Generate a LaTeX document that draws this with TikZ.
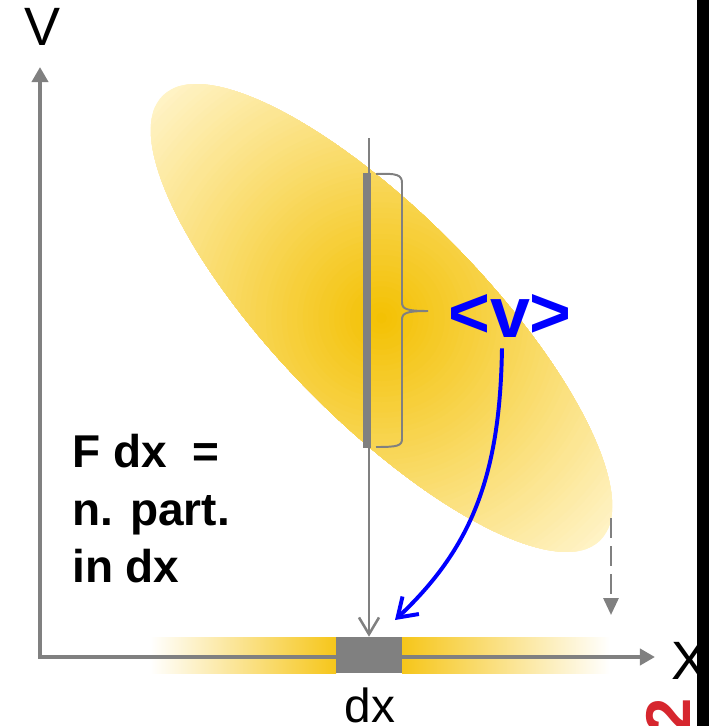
\documentclass[tikz,border=0pt]{standalone}
\usepackage{fontspec}
\setmainfont{Liberation Sans}
\usepackage{xcolor}
\usetikzlibrary{arrows.meta}

\definecolor{ellgold}{RGB}{243,192,0}
\definecolor{ellpale}{RGB}{255,243,198}
\definecolor{bandgold}{RGB}{246,198,26}
\definecolor{axgray}{RGB}{128,128,128}
\definecolor{pagered}{RGB}{214,38,46}

\begin{document}
\begin{tikzpicture}[x=0.025cm, y=-0.025cm,
  axis/.style={draw=axgray, line width=0.1cm, {Triangle[length=0.375cm,width=0.4cm]}-{Triangle[length=0.375cm,width=0.4cm]}},
  probe/.style={draw=axgray, line width=1.8pt, -{Straight Barb[length=0.42cm,width=0.5cm]}},
  meanarrow/.style={draw=blue, line width=2.8pt, -{Straight Barb[length=0.45cm,width=0.6cm]}},
  proj/.style={draw=axgray, line width=2.1pt, dash pattern=on 0.5cm off 0.2cm, -{Triangle[length=0.425cm,width=0.375cm]}},
  axlbl/.style={inner sep=0pt, font=\fontsize{38.4}{46}\selectfont}]
  \useasboundingbox (0,0) rectangle (709,726);
  % beam ellipse, round gradient clipped to it
  \coordinate (ecen) at (381.5,318);
  \begin{scope}
    \clip[rotate around={-45.5:(ecen)}] (ecen) ellipse (312 and 103);
    \foreach \k in {0,...,59} {
      \pgfmathsetmacro\r{1-\k/60}
      \pgfmathtruncatemacro\p{100*\k/60}
      \fill[ellgold!\p!ellpale] (ecen) circle ({315*\r});
    }
  \end{scope}
  % projection on x
  \shade[left color=white, right color=bandgold] (150,637) rectangle (336,673);
  \shade[left color=bandgold, right color=white] (402,637) rectangle (610,673);
  \coordinate (vtip) at (40,67);
  \coordinate (orig) at (40,657);
  \coordinate (xtip) at (655,657);
  \draw[axis] (vtip) -- (orig) -- (xtip);
  \node[fill=axgray, inner sep=0pt, minimum width=1.65cm, minimum height=0.9cm] (dxbox) at (369,655) {};
  % slice dx
  \coordinate (ptop) at (369,138);
  \draw[probe] (ptop) -- (dxbox.north);
  \fill[axgray] (363,173) rectangle (371,448);
  \draw[axgray, line width=1.4pt] (376,174) .. controls (397,173) and (402,175) .. (402,183) -- (402,302)
    .. controls (402,309) and (406,311) .. (428,311) .. controls (406,311) and (402,313) .. (402,320)
    -- (402,439) .. controls (402,446) and (397,447) .. (376,447);
  \node[inner sep=0pt, anchor=base, text=blue, font=\fontsize{51}{60}\selectfont\bfseries] (vmean) at (510,337) {<v>};
  \coordinate (vhead) at (395,620);
  \draw[meanarrow] ([shift={(-8,11)}]vmean.south) .. controls (500,470) and (475,545) .. (vhead);
  \coordinate (eedge) at (611,518);
  \coordinate (etip) at (611,615);
  \draw[proj] (eedge) -- (etip);
  % labels
  \node[axlbl] (vlab) at (42.5,26.5) {V};
  \node[axlbl] (xlab) at (690,661) {X};
  \node[inner sep=0pt, anchor=north, font=\fontsize{34}{40}\selectfont] (dxlab) at (370,688) {dx};
  \node[inner sep=0pt, anchor=north west, align=left, font=\fontsize{32.7}{40.9}\selectfont\bfseries] (fdx) at (72,434) {F dx~~=\\n. part.\\in dx};
  \node[inner sep=0pt, rotate=90, text=pagered, font=\fontsize{45}{54}\selectfont\bfseries] (pnum) at (668,716) {2};
  \fill[black] (697,0) rectangle (709,726);
\end{tikzpicture}
\end{document}
